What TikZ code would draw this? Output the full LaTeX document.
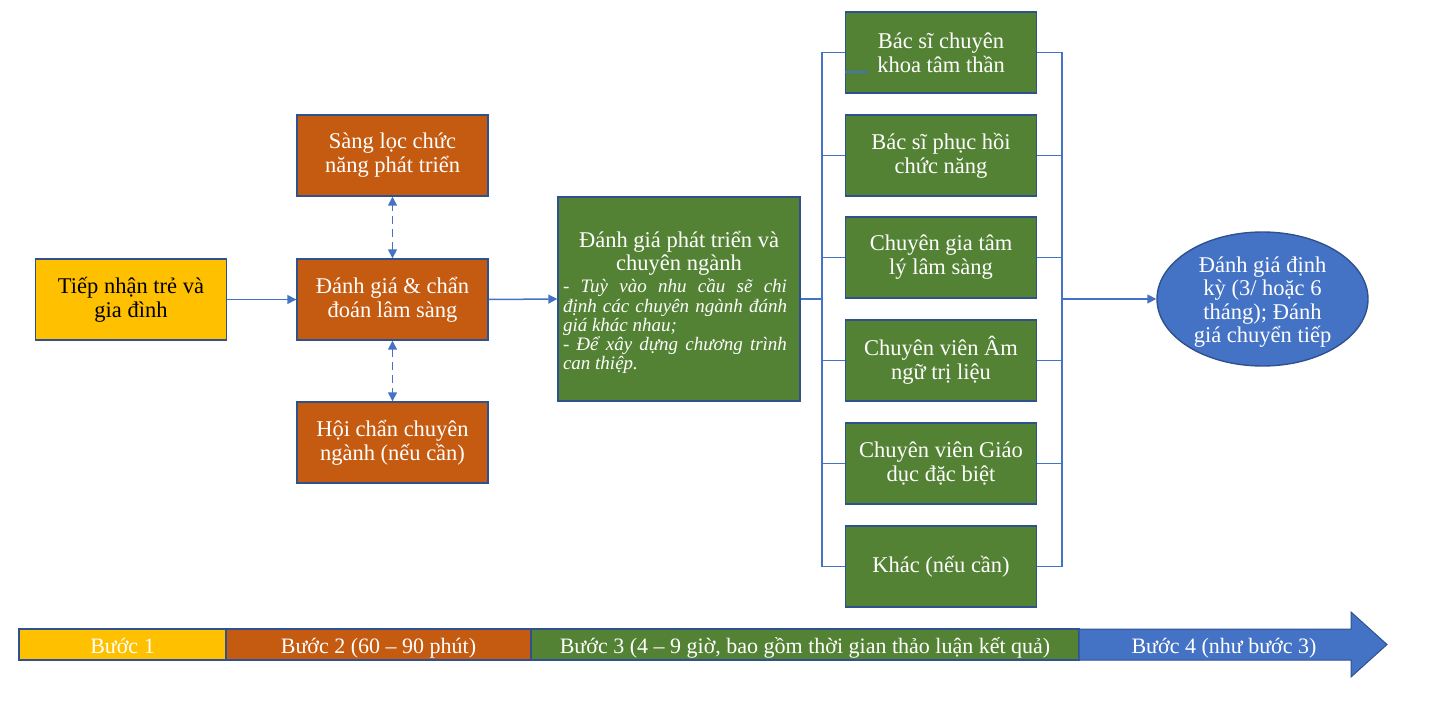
\documentclass[tikz,border=0pt]{standalone}
\usepackage{fontspec}
\setmainfont{Liberation Serif}
\usetikzlibrary{shapes.geometric,arrows.meta}
\definecolor{cyel}{HTML}{FFC000}
\definecolor{corg}{HTML}{C55A11}
\definecolor{cgrn}{HTML}{548235}
\definecolor{cblu}{HTML}{4472C4}
\definecolor{cbrd}{HTML}{2F528F}
\tikzset{
  box/.style={draw=cbrd, line width=1.4pt, minimum width=191pt, minimum height=81pt, inner sep=0pt, align=center, text=white, font=\fontsize{22.5}{24}\selectfont},
  conn/.style={draw=cblu, line width=1.5pt},
  tip/.style={-{Triangle[width=9pt,length=9pt]}},
  dtip/.style={{Triangle[width=9pt,length=9pt]}-{Triangle[width=9pt,length=9pt]}, dash pattern=on 8pt off 5pt},
  barseg/.style={draw=cbrd, line width=1.3pt, minimum height=31pt, inner sep=0pt, text=white, text height=19pt, text depth=1pt, font=\fontsize{22}{24}\selectfont},
}
\begin{document}
\begin{tikzpicture}[x=1pt,y=-1pt]
\useasboundingbox (0,0) rectangle (1430,701);
% left boxes
\node[box, fill=cyel, text=black] (rec) at (131,299.5) {Tiếp nhận trẻ và\\gia đình};
\node[box, fill=corg] (scr) at (392.5,155.5) {Sàng lọc chức\\năng phát triển};
\node[box, fill=corg] (dx) at (392.5,299.5) {Đánh giá \& chẩn\\đoán lâm sàng};
\node[box, fill=corg] (hc) at (392.5,442.5) {Hội chẩn chuyên\\ngành (nếu cần)};
% center box
\node[box, fill=cgrn, minimum width=242pt, minimum height=204pt] (ctr) at (679,299) {};
\node[text=white, font=\fontsize{22.5}{23}\selectfont, align=center, inner sep=0pt, anchor=base] (ctrt) at (679,270) {Đánh giá phát triển và\\chuyên ngành};
\node[text=white, font=\fontsize{19}{19.2}\selectfont\itshape, text width=224pt, align=justify, inner sep=0pt, anchor=north] (ctrb) at (675,279) {- Tuỳ vào nhu cầu sẽ chi\linebreak định các chuyên ngành đánh\linebreak giá khác nhau;\\- Để xây dựng chương trình\linebreak can thiệp.};
% right column
\node[box, fill=cgrn] (r1) at (941,52.5) {Bác sĩ chuyên\\khoa tâm thần};
\node[box, fill=cgrn] (r2) at (941,155.5) {Bác sĩ phục hồi\\chức năng};
\node[box, fill=cgrn] (r3) at (941,257.5) {Chuyên gia tâm\\lý lâm sàng};
\node[box, fill=cgrn] (r4) at (941,360.5) {Chuyên viên Âm\\ngữ trị liệu};
\node[box, fill=cgrn] (r5) at (941,463.5) {Chuyên viên Giáo\\dục đặc biệt};
\node[box, fill=cgrn] (r6) at (941,566.5) {Khác (nếu cần)};
% ellipse
\node[ellipse, draw=cbrd, line width=1.4pt, fill=cblu, minimum width=211pt, minimum height=134pt, inner sep=0pt] (ell) at (1262.5,299) {};
\node[align=center, inner sep=0pt, text=white, font=\fontsize{22.5}{23.5}\selectfont] (ellt) at (1262.5,302) {Đánh giá định\\kỳ (3/ hoặc 6\\tháng); Đánh\\giá chuyển tiếp};
% connectors
\coordinate (bl) at (822,299);
\coordinate (br) at (1062,299);
\draw[conn, tip] (rec.east) -- (dx.west);
\draw[conn, tip] (dx.east) -- (ctr.west);
\draw[conn, dtip] (dx.north) -- (scr.south);
\draw[conn, dtip] (dx.south) -- (hc.north);
\draw[conn] (ctr.east) -- (bl);
\draw[conn] (r1.west) -- (r1.west -| bl) -- (r6.west -| bl) -- (r6.west);
\foreach \r in {r2,r3,r4,r5} \draw[conn] (\r.west) -- (\r.west -| bl);
\draw[conn] ([yshift=-19.5pt]r1.west) -- ++(23,0);
\draw[conn] (r1.east) -- (r1.east -| br) -- (r6.east -| br) -- (r6.east);
\foreach \r in {r2,r3,r4,r5} \draw[conn] (\r.east) -- (\r.east -| br);
\draw[conn, tip] (br) -- (ell.west);
% bottom bar
\node[barseg, fill=cyel, minimum width=207pt] (b1) at (122.5,644.5) {Bước 1};
\node[barseg, fill=corg, minimum width=305pt] (b2) at (378.5,644.5) {Bước 2 (60 – 90 phút)};
\node[barseg, fill=cgrn, minimum width=548pt] (b3) at (805,644.5) {Bước 3 (4 – 9 giờ, bao gồm thời gian thảo luận kết quả)};
\fill[cblu, draw=cbrd, line width=1pt] (1079,629) -- (1351,629) -- (1351,612) -- (1387,644.5) -- (1351,677) -- (1351,660) -- (1079,660) -- cycle;
\node[text=white, font=\fontsize{22}{24}\selectfont, inner sep=0pt, text height=19pt, text depth=1pt] (b4) at (1224,644.5) {Bước 4 (như bước 3)};
\end{tikzpicture}
\end{document}
